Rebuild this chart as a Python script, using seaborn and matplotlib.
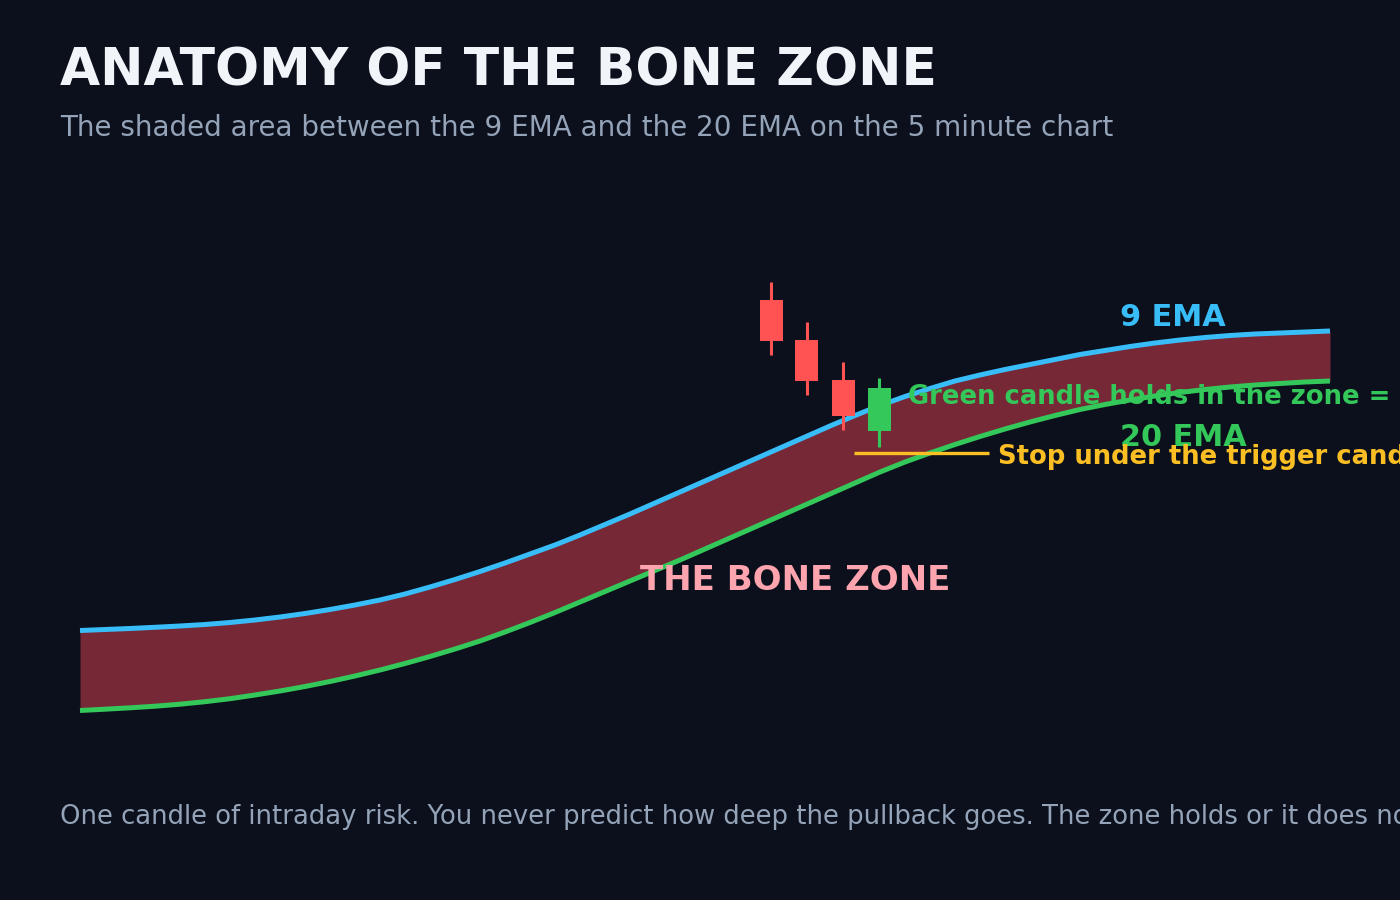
import matplotlib
matplotlib.use('Agg')
import matplotlib.pyplot as plt
import pandas as pd
import seaborn as sns

# EMA values along the chart (price units), half-step spacing
step = [i / 2 for i in range(51)]
ema9 = [16.95, 17.05, 17.15, 17.27, 17.4, 17.55, 17.75, 18.0, 18.3, 18.65,
        19.05, 19.5, 20.0, 20.6, 21.3, 22.05, 22.85, 23.7, 24.6, 25.5,
        26.5, 27.55, 28.6, 29.7, 30.8, 31.9, 33.0, 34.1, 35.2, 36.3,
        37.4, 38.45, 39.45, 40.35, 41.15, 41.9, 42.5, 43.05, 43.55, 44.05,
        44.55, 44.95, 45.35, 45.7, 46.0, 46.25, 46.45, 46.6, 46.7, 46.8, 46.9]
ema20 = [8.95, 9.08, 9.22, 9.38, 9.58, 9.83, 10.13, 10.5, 10.9, 11.35,
         11.85, 12.4, 13.0, 13.65, 14.35, 15.1, 15.9, 16.8, 17.75, 18.75,
         19.8, 20.85, 21.9, 22.95, 24.0, 25.1, 26.2, 27.3, 28.4, 29.5,
         30.6, 31.7, 32.8, 33.8, 34.7, 35.55, 36.35, 37.1, 37.8, 38.45,
         39.05, 39.55, 40.0, 40.4, 40.75, 41.05, 41.3, 41.5, 41.65, 41.8, 41.9]

# pullback candles (OHLC)
candle_x = [13.82, 14.54, 15.26, 15.98]
c_open = [50.0, 46.0, 42.0, 36.9]
c_high = [51.8, 47.8, 43.8, 42.2]
c_low = [44.5, 40.5, 37.0, 35.3]
c_close = [45.9, 41.9, 38.4, 41.2]

# stop level under the trigger candle
stop_price = 34.7
stop_span = [15.48, 18.18]

BG = '#0b101c'
BLUE = '#38bdf8'
GREEN = '#34c759'
RED = '#ff5252'
ZONE = '#762836'
PINK = '#fda4af'
YELLOW = '#fbbf24'

df = pd.DataFrame({'step': step, 'ema9': ema9, 'ema20': ema20})
candles = pd.DataFrame({'x': candle_x, 'open': c_open, 'high': c_high,
                        'low': c_low, 'close': c_close})

sns.set_theme(style='dark')
plt.rcParams['font.family'] = ['DejaVu Sans']

fig = plt.figure(figsize=(14, 9), dpi=100, facecolor=BG)
ax = fig.add_axes([0, 0, 1, 1])
ax.set_facecolor(BG)

# the bone zone
ax.fill_between(df['step'], df['ema20'], df['ema9'], color=ZONE, lw=0, zorder=1)
sns.lineplot(data=df, x='step', y='ema9', color=BLUE, lw=3.6, ax=ax, zorder=3,
             solid_capstyle='butt')
sns.lineplot(data=df, x='step', y='ema20', color=GREEN, lw=3.6, ax=ax, zorder=3,
             solid_capstyle='butt')

# candles
for _, c in candles.iterrows():
    col = GREEN if c['close'] > c['open'] else RED
    ax.vlines(c['x'], c['low'], c['high'], color=col, lw=2.2, zorder=4)
    lo, hi = min(c['open'], c['close']), max(c['open'], c['close'])
    ax.bar(c['x'], hi - lo, bottom=lo, width=0.46, color=col, lw=0, zorder=5)

ax.hlines(stop_price, stop_span[0], stop_span[1], color=YELLOW, lw=2.4, zorder=6)

ax.set_xlim(-1.6, 26.4)
ax.set_ylim(-10, 80)
ax.axis('off')

# labels
ax.text(20.8, 48.2, '9 EMA', color=BLUE, fontsize=21.8, fontweight='bold', va='center')
ax.text(20.8, 36.2, '20 EMA', color=GREEN, fontsize=21.8, fontweight='bold', va='center')
ax.text(16.56, 40.3, 'Green candle holds in the zone = entry', color=GREEN,
        fontsize=18.6, fontweight='bold', va='center', zorder=7)
ax.text(18.36, 34.3, 'Stop under the trigger candle', color=YELLOW,
        fontsize=18.6, fontweight='bold', va='center', zorder=7)
ax.text(11.2, 21.9, 'THE BONE ZONE', color=PINK, fontsize=24.5, fontweight='bold',
        va='center', zorder=7)

fig.text(60 / 1400, 1 - 72 / 900, 'ANATOMY OF THE BONE ZONE', color='#f1f5f9',
         fontsize=37.4, fontweight='bold', va='center')
fig.text(60 / 1400, 1 - 128 / 900,
         'The shaded area between the 9 EMA and the 20 EMA on the 5 minute chart',
         color='#94a3b8', fontsize=20, va='center')
fig.text(60 / 1400, 1 - 817 / 900,
         'One candle of intraday risk. You never predict how deep the pullback goes. '
         'The zone holds or it does not.',
         color='#94a3b8', fontsize=18.6, va='center')

fig.savefig('out.png', dpi=100, facecolor=BG)
